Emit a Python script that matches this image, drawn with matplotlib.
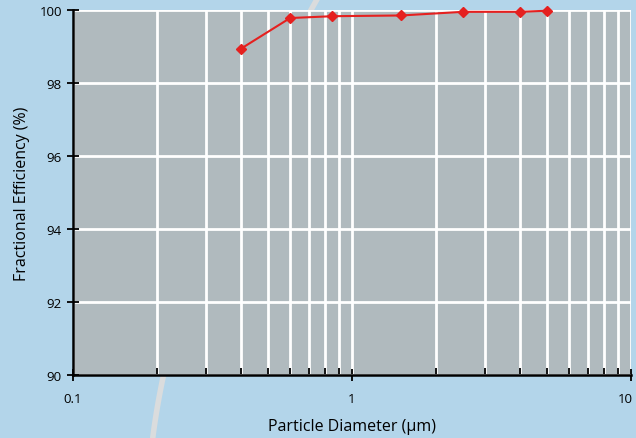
import matplotlib.pyplot as plt
import numpy as np
from matplotlib.lines import Line2D
from matplotlib.ticker import LogLocator, NullFormatter, FixedLocator
from matplotlib.transforms import ScaledTranslation

# particle diameter (um) vs fractional efficiency (%)
diam = [0.4, 0.6, 0.85, 1.5, 2.5, 4.0, 5.0]
eff = [98.94, 99.78, 99.83, 99.85, 99.95, 99.95, 99.98]

yticks = [90, 92, 94, 96, 98, 100]
xticks = [0.1, 1, 10]
xlabels = ['0.1', '1', '10']

bg = '#b3d5ea'
face = '#b0babe'
red = '#e5201f'

plt.rcParams['font.family'] = ['Open Sans', 'DejaVu Sans']

fig = plt.figure(figsize=(6.36, 4.39), dpi=100, facecolor=bg)

# decorative swoosh behind the plot (figure pixel coords -> fraction)
t = np.linspace(0, 1, 100)
p0, p1, p2 = np.array([320, -5]), np.array([175, 250]), np.array([152, 445])
pts = ((1 - t)[:, None] ** 2) * p0 + (2 * t * (1 - t))[:, None] * p1 + (t ** 2)[:, None] * p2
fig.add_artist(Line2D(pts[:, 0] / 636, 1 - pts[:, 1] / 439, color='#dadcdd', lw=4,
                      transform=fig.transFigure, zorder=0))

ax = fig.add_axes([73 / 636, 63 / 439, 558 / 636, 365 / 439])
ax.set_facecolor(face)
ax.set_xscale('log')
ax.set_xlim(0.1, 10)
ax.set_ylim(90, 100)

ax.xaxis.set_major_locator(FixedLocator(xticks))
ax.set_xticklabels(xlabels)
ax.xaxis.set_minor_locator(LogLocator(base=10, subs=np.arange(2, 10)))
ax.xaxis.set_minor_formatter(NullFormatter())
ax.set_yticks(yticks)

ax.grid(True, which='both', axis='x', color='white', lw=2)
ax.grid(True, which='major', axis='y', color='white', lw=2)
ax.set_axisbelow(True)

ax.plot(diam, eff, color=red, lw=1.5, marker='D', ms=5.5, zorder=3, clip_on=False)

for s in ['top', 'right']:
    ax.spines[s].set_visible(False)
for s in ['left', 'bottom']:
    ax.spines[s].set_linewidth(1.8)
    ax.spines[s].set_zorder(4)

ax.tick_params(axis='both', which='major', direction='inout', length=9, width=1.3,
               labelsize=9.5, colors='black')
ax.tick_params(axis='x', which='major', pad=8)
ax.tick_params(axis='x', which='minor', direction='in', length=5, width=1.3)

# nudge the last label so it stays inside the figure
last = ax.get_xticklabels()[-1]
last.set_transform(last.get_transform() + ScaledTranslation(-6 / 100, 0, fig.dpi_scale_trans))

ax.set_xlabel('Particle Diameter (µm)', fontsize=11.5, labelpad=9)
ax.set_ylabel('Fractional Efficiency (%)', fontsize=11.5, labelpad=7)

fig.savefig('out.png', dpi=100, facecolor=bg)
